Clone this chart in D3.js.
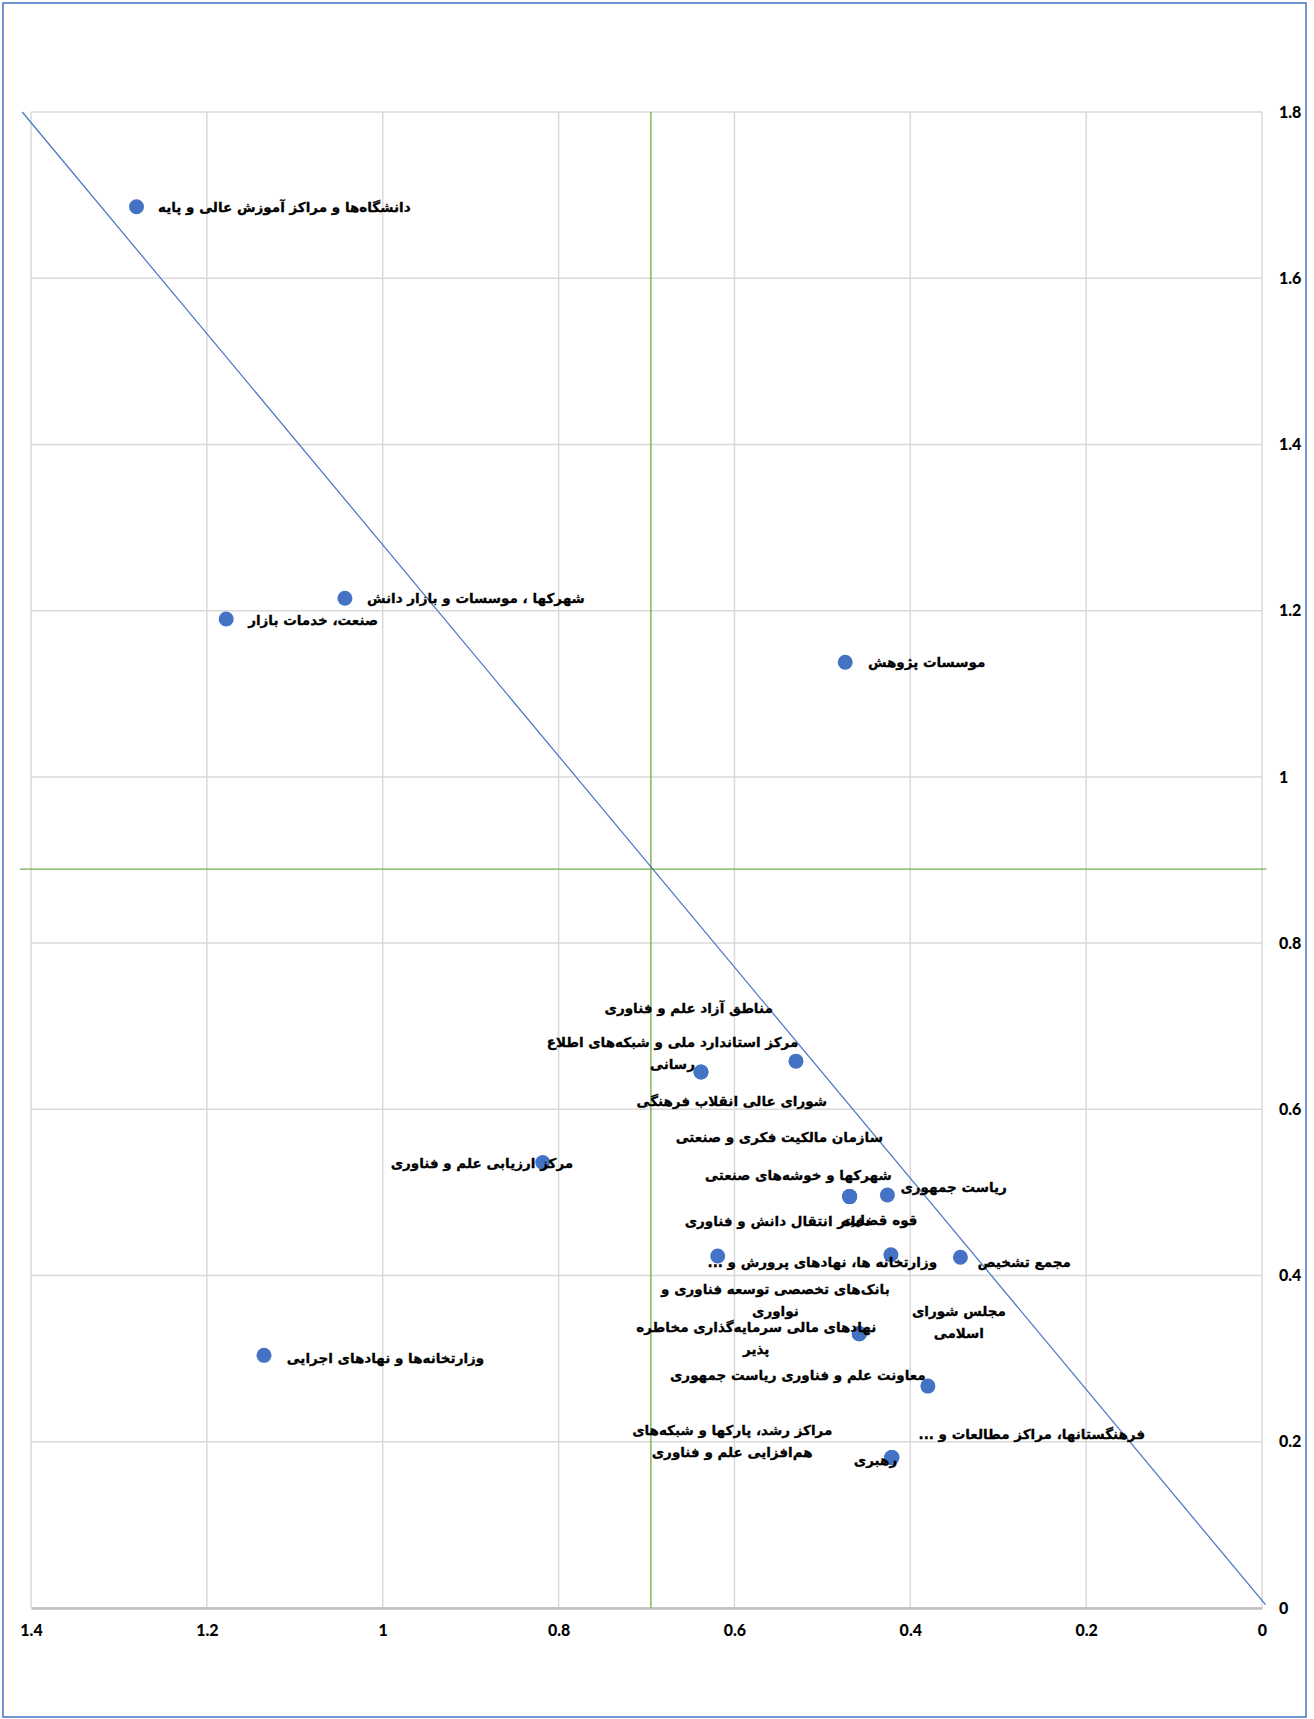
<!DOCTYPE html>
<html lang="fa">
<head>
<meta charset="utf-8">
<title>scatter</title>
<script src="https://d3js.org/d3.v7.min.js"></script>
<style>
  body { margin: 0; background: #fff; }
  .lbl { font-family: "DejaVu Sans", sans-serif; font-weight: bold; font-size: 13.5px; fill: #000; stroke: #000; stroke-width: 0.3px; }
  .tick text { font-family: Lato, "Liberation Sans", sans-serif; font-weight: 900; font-size: 16px; fill: #000; }
</style>
</head>
<body>
<script>
// data
var names = [
  "دانشگاه\u200cها و مراکز آموزش عالی و پایه",
  "شهرکها ، موسسات و بازار دانش",
  "صنعت، خدمات بازار",
  "موسسات پژوهش",
  "مرکز ارزیابی علم و فناوری",
  "وزارتخانه\u200cها و نهادهای اجرایی",
  "مناطق آزاد علم و فناوری",
  "مرکز استاندارد ملی و شبکه\u200cهای اطلاع|رسانی",
  "شورای عالی انقلاب فرهنگی",
  "شهرکها و خوشه\u200cهای صنعتی",
  "سازمان مالکیت فکری و صنعتی",
  "دفاتر انتقال دانش و فناوری",
  "ریاست جمهوری",
  "قوه قضاییه",
  "وزارتخانه ها، نهادهای پرورش و ...",
  "مجمع تشخیص",
  "نهادهای مالی سرمایه\u200cگذاری مخاطره|پذیر",
  "بانک\u200cهای تخصصی توسعه فناوری و|نواوری",
  "مجلس شورای|اسلامی",
  "معاونت علم و فناوری ریاست جمهوری",
  "رهبری",
  "فرهنگستانها، مراکز مطالعات و ...",
  "مراکز رشد، پارکها و شبکه\u200cهای|هم\u200cافزایی علم و فناوری"
];
var xVals = [1.28, 1.043, 1.178, 0.474, 0.818, 1.135, 0.53, 0.638, 0.638, 0.469, 0.469, 0.469,
             0.426, 0.422, 0.619, 0.343, 0.458, 0.458, 0.458, 0.38, 0.421, 0.421, 0.421];
var yVals = [1.686, 1.215, 1.19, 1.138, 0.536, 0.304, 0.658, 0.645, 0.645, 0.495, 0.495, 0.495,
             0.497, 0.425, 0.4235, 0.422, 0.33, 0.33, 0.33, 0.267, 0.181, 0.181, 0.181];
var xTicks = [0, 0.2, 0.4, 0.6, 0.8, 1, 1.2, 1.4];
var yTicks = [0, 0.2, 0.4, 0.6, 0.8, 1, 1.2, 1.4, 1.6, 1.8];
var meanX = 0.695, meanY = 0.889;
var diagX = [1.41, -0.004], diagY = [1.8, 0.004];
var hLineX = [1.4125, -0.005];

// label placement: [dx, dy, anchor] in px from the dot ; L = left edge, R = right edge, C = centre
var labelPos = [
  [21.5, 0, "L"], [22, 0, "L"], [22, 1, "L"], [22.7, 0, "L"], [30.4, 0, "R"], [22.7, 3, "L"],
  [-107.3, -53.4, "C"], [-28.5, -18.7, "C"], [30.7, 29.3, "C"], [-51.2, -21.7, "C"],
  [-70.3, -60, "C"], [-71.5, 24, "C"], [66.2, -8.3, "C"], [26.5, -34.3, "R"], [104.6, 5.7, "C"],
  [63.8, 4.7, "C"], [-103, 4.3, "C"], [-83.9, -33.5, "C"], [99.6, -11.5, "C"], [-130, -11, "C"],
  [-16.3, 2, "C"], [140, -24, "C"], [-159.6, -16.1, "C"]
];

var w = 1314, h = 1719;
var pLeft = 31, pRight = 1262, pTop = 112, pBottom = 1608;

var svg = d3.select("body").append("svg")
  .attr("width", w)
  .attr("height", h);

var x = d3.scaleLinear().domain([0, 1.4]).range([pRight, pLeft]);
var y = d3.scaleLinear().domain([0, 1.8]).range([pBottom, pTop]);
var fmt = d3.format(".1~f");

// grid
svg.append("g").selectAll("line")
  .data(xTicks)
  .enter().append("line")
  .attr("x1", d => x(d)).attr("x2", d => x(d))
  .attr("y1", pTop).attr("y2", pBottom)
  .attr("stroke", "#d9d9d9").attr("stroke-width", 1.5);
svg.append("g").selectAll("line")
  .data(yTicks)
  .enter().append("line")
  .attr("x1", pLeft).attr("x2", pRight)
  .attr("y1", d => y(d)).attr("y2", d => y(d))
  .attr("stroke", "#d9d9d9").attr("stroke-width", 1.5);

// x axis
var xAxis = svg.append("g")
  .attr("transform", "translate(0," + pBottom + ")")
  .call(d3.axisBottom(x).tickValues(xTicks).tickFormat(fmt).tickSize(0).tickPadding(17));
xAxis.select(".domain").attr("stroke", "#bfbfbf").attr("stroke-width", 2.5);

// y axis (right side)
var yAxis = svg.append("g")
  .attr("transform", "translate(" + pRight + ",0)")
  .call(d3.axisRight(y).tickValues(yTicks).tickFormat(fmt).tickSize(0).tickPadding(17));
yAxis.select(".domain").remove();

// mean lines
svg.append("line")
  .attr("x1", x(meanX)).attr("x2", x(meanX))
  .attr("y1", y(0)).attr("y2", y(1.8))
  .attr("stroke", "#70ad47").attr("stroke-width", 1.3);
svg.append("line")
  .attr("x1", x(hLineX[0])).attr("x2", x(hLineX[1]))
  .attr("y1", y(meanY)).attr("y2", y(meanY))
  .attr("stroke", "#70ad47").attr("stroke-width", 1.3);

// diagonal
svg.append("line")
  .attr("x1", x(diagX[0])).attr("y1", y(diagY[0]))
  .attr("x2", x(diagX[1])).attr("y2", y(diagY[1]))
  .attr("stroke", "#4472c4").attr("stroke-width", 1.2);

// points
svg.append("g").selectAll("circle")
  .data(names)
  .enter().append("circle")
  .attr("cx", (d, i) => x(xVals[i]))
  .attr("cy", (d, i) => y(yVals[i]))
  .attr("r", 7.5)
  .attr("fill", "#4472c4");

// labels
var anchors = { L: "end", R: "start", C: "middle" };
var lineH = 22;
names.forEach(function(n, i) {
  var p = labelPos[i];
  var lines = n.split("|");
  var cx = x(xVals[i]) + p[0], cy = y(yVals[i]) + p[1];
  lines.forEach(function(t, j) {
    svg.append("text")
      .attr("class", "lbl")
      .attr("direction", "rtl")
      .attr("x", cx)
      .attr("y", cy + (j - (lines.length - 1) / 2) * lineH)
      .attr("dominant-baseline", "central")
      .attr("text-anchor", anchors[p[2]])
      .text(t);
  });
});

// outer frame
svg.append("rect")
  .attr("x", 3).attr("y", 3)
  .attr("width", 1303).attr("height", 1714)
  .attr("fill", "none")
  .attr("stroke", "#4472c4")
  .attr("stroke-width", 1.5);
</script>
</body>
</html>
